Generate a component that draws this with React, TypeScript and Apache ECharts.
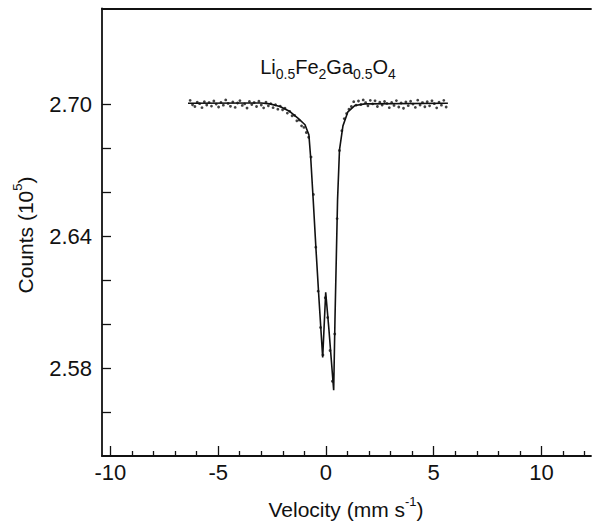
import React, { useEffect, useRef } from "react";
import * as echarts from "echarts";

// Axis ranges and ticks
const xMin = -10.39;
const xMax = 12.3;
const yMin = 2.54;
const yMax = 2.7436;
const xMajorTicks = [-10, -5, 0, 5, 10];
const xMinorTicks = [-9, -8, -7, -6, -4, -3, -2, -1, 1, 2, 3, 4, 6, 7, 8, 9, 11, 12];
const yTicks = [2.56, 2.58, 2.6, 2.62, 2.64, 2.66, 2.68, 2.7];
const yLabelTicks = [2.58, 2.64, 2.7];

// Fitted curve (velocity mm/s, counts 10^5)
const fitVelocity = [-6.4, -3.0, -2.6, -2.13, -1.67, -1.3, -0.97, -0.79, -0.7, -0.59, -0.46, -0.32, -0.15, -0.01, 0.14, 0.36, 0.42, 0.49, 0.54, 0.63, 0.79, 1.02, 1.35, 1.81, 5.66];
const fitCounts = [2.7005, 2.7006, 2.7002, 2.699, 2.6967, 2.6937, 2.6907, 2.6861, 2.6748, 2.6566, 2.6339, 2.6111, 2.5848, 2.6145, 2.5975, 2.5699, 2.602, 2.6339, 2.6566, 2.6793, 2.6902, 2.6966, 2.6995, 2.7002, 2.7005];

// Measured points
const dataVelocity = [
  -6.3, -6.19, -6.08, -5.97, -5.86, -5.75, -5.64, -5.53, -5.42, -5.31, -5.2, -5.09, -4.98, -4.87, -4.76, -4.65, -4.54, -4.43, -4.32, -4.21,
  -4.1, -3.99, -3.88, -3.77, -3.66, -3.55, -3.44, -3.33, -3.22, -3.11, -3.0, -2.89, -2.78, -2.67, -2.56, -2.45, -2.34, -2.23, -2.12, -2.01,
  -1.9, -1.79, -1.68, -1.57, -1.46, -1.35, -1.24, -1.13, -1.02, -0.91, -0.8, -0.69, -0.58, -0.47, -0.36, -0.25, -0.14, -0.03, 0.08, 0.19,
  0.3, 0.41, 0.52, 0.63, 0.74, 0.85, 0.96, 1.07, 1.18, 1.29, 1.4, 1.51, 1.62, 1.73, 1.84, 1.95, 2.06, 2.17, 2.28, 2.39,
  2.5, 2.61, 2.72, 2.83, 2.94, 3.05, 3.16, 3.27, 3.38, 3.49, 3.6, 3.71, 3.82, 3.93, 4.04, 4.15, 4.26, 4.37, 4.48, 4.59,
  4.7, 4.81, 4.92, 5.03, 5.14, 5.25, 5.36, 5.47, 5.58,
];
const dataCounts = [
  2.7018, 2.6998, 2.699, 2.701, 2.7003, 2.6985, 2.7012, 2.6997, 2.7008, 2.6992, 2.7015, 2.7001, 2.6988, 2.7009, 2.6996, 2.702, 2.7004, 2.6991, 2.7011, 2.6986,
  2.7006, 2.7017, 2.6995, 2.7002, 2.6983, 2.7013, 2.6999, 2.7008, 2.699, 2.7014, 2.6997, 2.6984, 2.701, 2.6993, 2.7003, 2.6985, 2.6998, 2.6978, 2.6992, 2.6975,
  2.6982, 2.696, 2.6968, 2.6948, 2.695, 2.6925, 2.6928, 2.6902, 2.6895, 2.6872, 2.685, 2.676, 2.659, 2.635, 2.615, 2.5985, 2.586, 2.612, 2.603, 2.588,
  2.574, 2.5955, 2.648, 2.679, 2.688, 2.6935, 2.6958, 2.6978, 2.699, 2.7012, 2.6996, 2.7015, 2.6999, 2.702, 2.7008, 2.6993, 2.7018, 2.7002, 2.7016, 2.699,
  2.701, 2.6997, 2.7013, 2.7004, 2.6985, 2.7009, 2.6995, 2.7017, 2.6988, 2.7006, 2.6982, 2.7011, 2.6994, 2.7014, 2.7001, 2.6986, 2.7019, 2.6997, 2.7008, 2.6989,
  2.7012, 2.6993, 2.7016, 2.7003, 2.6984, 2.701, 2.6996, 2.7018, 2.6988,
];

const FONT = "Liberation Sans";
const INK = "#111111";

export default function App() {
  const ref = useRef<HTMLDivElement>(null);

  useEffect(() => {
    if (!ref.current) return;
    const chart = echarts.init(ref.current, undefined, { renderer: "svg" });
    const axisLine = { show: true, onZero: false, lineStyle: { color: INK, width: 1.8 } };
    const tickStyle = { color: INK, width: 1.3 };
    const bare = {
      type: "value",
      min: xMin,
      max: xMax,
      axisLabel: { show: false },
      splitLine: { show: false },
    };

    chart.setOption({
      animation: false,
      backgroundColor: "#ffffff",
      grid: { left: 102, right: 1, top: 8.5, bottom: 69, containLabel: false },
      xAxis: [
        {
          type: "value",
          min: xMin,
          max: xMax,
          position: "bottom",
          axisLine,
          axisTick: { show: false },
          axisLabel: {
            show: true,
            customValues: xMajorTicks,
            fontSize: 22,
            fontFamily: FONT,
            color: INK,
            margin: 5,
            formatter: (v: number) => String(v),
          },
          splitLine: { show: false },
        },
        {
          ...bare,
          position: "bottom",
          axisLine: { show: false, onZero: false },
          axisTick: { show: true, inside: true, length: 5, customValues: xMinorTicks, lineStyle: tickStyle },
        },
        {
          ...bare,
          position: "bottom",
          axisLine: { show: false, onZero: false },
          axisTick: { show: true, inside: true, length: 10, customValues: xMajorTicks, lineStyle: tickStyle },
        },
        {
          ...bare,
          position: "top",
          axisLine,
          axisTick: { show: false },
        },
      ],
      yAxis: [
        {
          type: "value",
          min: yMin,
          max: yMax,
          position: "left",
          axisLine,
          axisTick: { show: true, inside: true, length: 9, customValues: yTicks, lineStyle: tickStyle },
          axisLabel: {
            show: true,
            customValues: yLabelTicks,
            fontSize: 22,
            fontFamily: FONT,
            color: INK,
            margin: 10,
            formatter: (v: number) => v.toFixed(2),
          },
          splitLine: { show: false },
        },
      ],
      graphic: [
        {
          type: "text",
          x: 328,
          y: 67,
          style: {
            text: "{a|Li}{s|0.5}{a|Fe}{s|2}{a|Ga}{s|0.5}{a|O}{s|4}",
            align: "center",
            verticalAlign: "middle",
            rich: {
              a: { fontSize: 20, fontFamily: FONT, fill: INK, lineHeight: 28, verticalAlign: "middle" },
              s: { fontSize: 14, fontFamily: FONT, fill: INK, lineHeight: 14, verticalAlign: "bottom" },
            },
          },
        },
        {
          type: "text",
          x: 346,
          y: 509,
          style: {
            text: "{a|Velocity (mm s}{p|-1}{a|)}",
            align: "center",
            verticalAlign: "middle",
            rich: {
              a: { fontSize: 21, fontFamily: FONT, fill: INK, lineHeight: 28, verticalAlign: "middle" },
              p: { fontSize: 13, fontFamily: FONT, fill: INK, lineHeight: 13, verticalAlign: "top" },
            },
          },
        },
        {
          type: "text",
          x: 25,
          y: 235,
          rotation: Math.PI / 2,
          style: {
            text: "{a|Counts (10}{p|5}{a|)}",
            align: "center",
            verticalAlign: "middle",
            rich: {
              a: { fontSize: 21, fontFamily: FONT, fill: INK, lineHeight: 28, verticalAlign: "middle" },
              p: { fontSize: 13, fontFamily: FONT, fill: INK, lineHeight: 13, verticalAlign: "top" },
            },
          },
        },
      ],
      series: [
        {
          type: "line",
          xAxisIndex: 0,
          yAxisIndex: 0,
          data: fitVelocity.map((v, i) => [v, fitCounts[i]]),
          showSymbol: false,
          smooth: false,
          lineStyle: { color: INK, width: 1.6 },
          z: 3,
        },
        {
          type: "scatter",
          xAxisIndex: 0,
          yAxisIndex: 0,
          data: dataVelocity.map((v, i) => [v, dataCounts[i]]),
          symbol: "circle",
          symbolSize: 2.8,
          itemStyle: { color: "#111" },
          z: 4,
        },
      ],
    });
    return () => chart.dispose();
  }, []);

  return <div ref={ref} style={{ position: "absolute", left: 0, top: 0, width: 592, height: 525 }} />;
}
